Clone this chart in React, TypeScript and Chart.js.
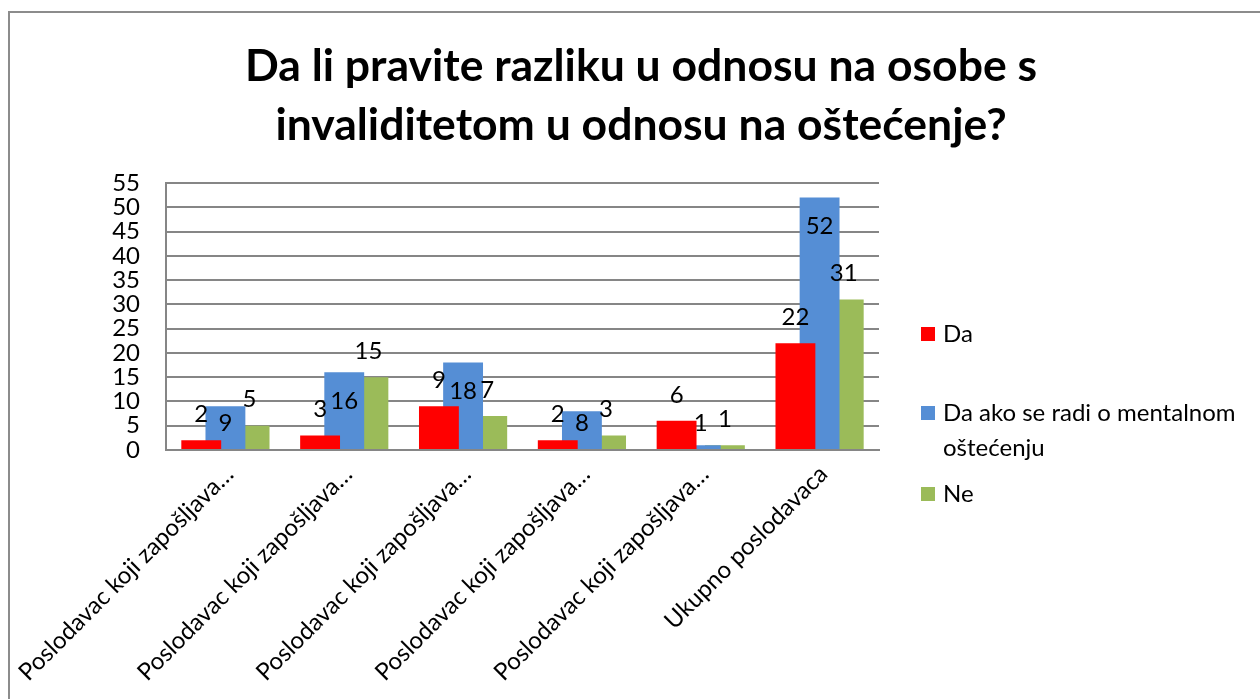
import React, { useEffect, useRef } from "react";
import { Chart, registerables } from "chart.js";

Chart.register(...registerables);

const TITLE_LINES = ["Da li pravite razliku u odnosu na osobe s", "invaliditetom u odnosu na oštećenje?"];
const CATEGORIES = [
  "Poslodavac koji zapošljava…",
  "Poslodavac koji zapošljava…",
  "Poslodavac koji zapošljava…",
  "Poslodavac koji zapošljava…",
  "Poslodavac koji zapošljava…",
  "Ukupno poslodavaca",
];
const SERIES_NAMES = ["Da", "Da ako se radi o mentalnom oštećenju", "Ne"];
const LEGEND_LINES = [["Da"], ["Da ako se radi o mentalnom", "oštećenju"], ["Ne"]];
const DA = [2, 3, 9, 2, 6, 22];
const DA_MENTALNO = [9, 16, 18, 8, 1, 52];
const NE = [5, 15, 7, 3, 1, 31];
const Y_MIN = 0;
const Y_MAX = 55;
const Y_STEP = 5;

const COLORS = ["#FF0000", "#558ED5", "#9BBB59"];
const FONT = "Lato";
const GRID = "#868686";

const framePlugin = {
  id: "frame",
  beforeDraw(chart: any) {
    const ctx = chart.ctx;
    ctx.save();
    ctx.fillStyle = "#ffffff";
    ctx.fillRect(0, 0, chart.width, chart.height);
    ctx.strokeStyle = "#8c8c8c";
    ctx.lineWidth = 2;
    ctx.beginPath();
    ctx.moveTo(9, chart.height);
    ctx.lineTo(9, 12);
    ctx.lineTo(chart.width, 12);
    ctx.stroke();
    ctx.restore();
  },
};

const titlePlugin = {
  id: "customTitle",
  afterDraw(chart: any) {
    const ctx = chart.ctx;
    ctx.save();
    ctx.fillStyle = "#000";
    ctx.font = `bold 44.5px ${FONT}`;
    ctx.textAlign = "center";
    ctx.textBaseline = "alphabetic";
    const baselines = [81, 140];
    TITLE_LINES.forEach((t, i) => ctx.fillText(t, 641, baselines[i]));
    ctx.restore();
  },
};

const legendPlugin = {
  id: "customLegend",
  afterDraw(chart: any) {
    const ctx = chart.ctx;
    ctx.save();
    ctx.font = `24px ${FONT}`;
    ctx.textBaseline = "middle";
    ctx.textAlign = "left";
    const itemY = [334, 413, 494];
    chart.data.datasets.forEach((ds: any, i: number) => {
      const y = itemY[i];
      ctx.fillStyle = ds.backgroundColor;
      ctx.fillRect(921, y - 7, 14, 14);
      ctx.fillStyle = "#000";
      LEGEND_LINES[i].forEach((line, j) => ctx.fillText(line, 943, y + j * 35));
    });
    ctx.restore();
  },
};

const labelPlugin = {
  id: "barLabels",
  afterDatasetsDraw(chart: any) {
    const ctx = chart.ctx;
    ctx.save();
    ctx.font = `24px ${FONT}`;
    ctx.fillStyle = "#000";
    ctx.textAlign = "center";
    ctx.textBaseline = "middle";
    chart.data.datasets.forEach((ds: any, di: number) => {
      const meta = chart.getDatasetMeta(di);
      meta.data.forEach((bar: any, i: number) => {
        const v = ds.data[i];
        let y;
        if (di === 1) {
          y = Math.min(bar.y + 29, bar.base - 26);
        } else {
          y = bar.y - 26;
        }
        ctx.fillText(String(v), bar.x, y);
      });
    });
    ctx.restore();
  },
};

export default function App() {
  const ref = useRef<HTMLCanvasElement>(null);
  useEffect(() => {
    const canvas = ref.current!;
    const chart = new Chart(canvas, {
      type: "bar",
      data: {
        labels: CATEGORIES,
        datasets: [DA, DA_MENTALNO, NE].map((d, i) => ({
          label: SERIES_NAMES[i],
          data: d,
          backgroundColor: COLORS[i],
          borderWidth: 0,
          categoryPercentage: 0.61,
          barPercentage: 1.65,
        })),
      },
      options: {
        responsive: false,
        animation: false,
        devicePixelRatio: 1,
        layout: { padding: { left: 0, top: 183, right: 381, bottom: 0 } },
        plugins: {
          legend: { display: false },
          title: { display: false },
          tooltip: { enabled: false },
        },
        scales: {
          x: {
            grid: { display: false, drawTicks: false },
            border: { display: true, color: GRID, width: 2 },
            ticks: {
              font: { family: FONT, size: 24 },
              color: "#000",
              minRotation: 45,
              maxRotation: 45,
              autoSkip: false,
              padding: 10,
              labelOffset: 4,
            },
            afterFit(scale: any) {
              scale.height = 249;
              scale.paddingLeft = 0;
              scale.paddingRight = 0;
            },
          },
          y: {
            min: Y_MIN,
            max: Y_MAX,
            grid: { color: GRID, lineWidth: 2, drawTicks: false },
            border: { display: true, color: GRID, width: 2 },
            ticks: {
              stepSize: Y_STEP,
              autoSkip: false,
              font: { family: FONT, size: 24 },
              color: "#000",
              padding: 26,
            },
            afterFit(scale: any) {
              scale.width = 166;
              scale.paddingTop = 0;
              scale.paddingBottom = 0;
            },
          },
        },
      },
      plugins: [framePlugin, labelPlugin, legendPlugin, titlePlugin],
    });
    return () => chart.destroy();
  }, []);
  return (
    <canvas
      ref={ref}
      width={1260}
      height={699}
      style={{ position: "fixed", left: 0, top: 0, width: 1260, height: 699 }}
    />
  );
}
